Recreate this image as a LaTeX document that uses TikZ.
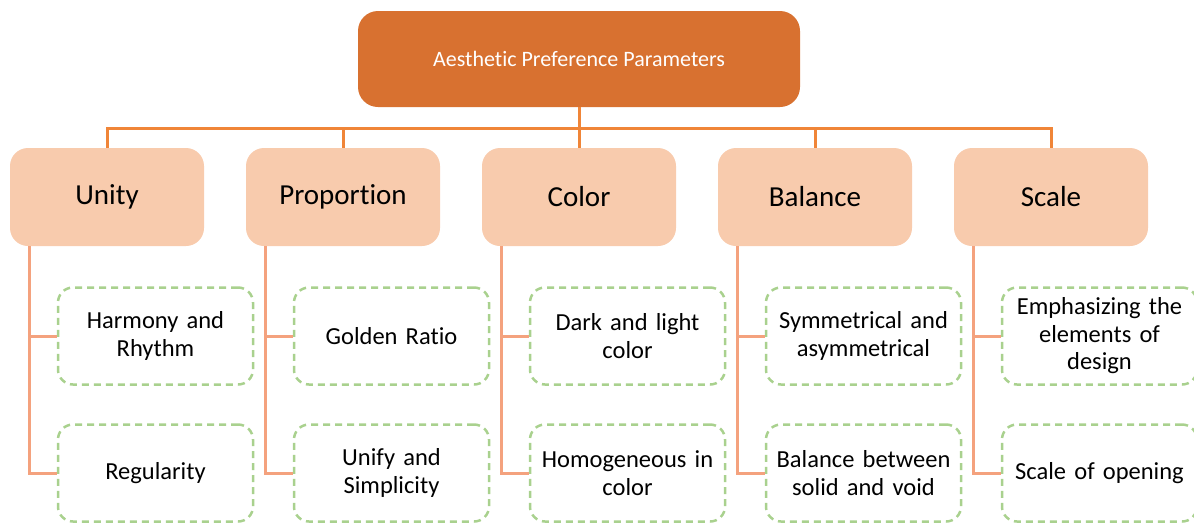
\documentclass[tikz,border=0pt]{standalone}
\usepackage{fontspec}
\setmainfont[Ligatures=NoCommon]{Carlito}
\definecolor{topfill}{HTML}{D87130}
\definecolor{catfill}{HTML}{F8CBAD}
\definecolor{barline}{HTML}{F08538}
\definecolor{subline}{HTML}{F4A27E}
\definecolor{dashgreen}{HTML}{A9D18E}
\tikzset{
  topbox/.style={rectangle, rounded corners=20pt, fill=topfill, text=white,
    minimum width=442pt, minimum height=96pt, inner sep=0pt,
    font=\fontsize{22}{26}\selectfont},
  catbox/.style={rectangle, rounded corners=18pt, fill=catfill, text=black,
    minimum width=194pt, minimum height=98pt, inner sep=0pt,
    font=\fontsize{29}{34}\selectfont},
  subbox/.style={rectangle, rounded corners=15pt, draw=dashgreen, line width=2.5pt,
    dash pattern=on 7pt off 5pt, minimum width=195pt, minimum height=97pt,
    inner sep=0pt, text width=190pt, align=center,
    font=\fontsize{24.5}{27.5}\selectfont},
  barconn/.style={draw=barline, line width=3pt},
  subconn/.style={draw=subline, line width=3pt},
}
\begin{document}
\begin{tikzpicture}[x=1pt,y=1pt]
\useasboundingbox (0,0) rectangle (1194,-523);
\node[topbox] (top) at (579,-59) {Aesthetic Preference Parameters};
\coordinate (bar) at (0,-128);
\node[catbox] (c1) at (107,-197) {Unity};
\node[catbox] (c2) at (343,-197) {Proportion};
\node[catbox] (c3) at (579,-197) {Color};
\node[catbox] (c4) at (815,-197) {Balance};
\node[catbox] (c5) at (1051,-197) {Scale};
\node[subbox] (s1a) at (155.5,-336) {Harmony and\\Rhythm};
\node[subbox] (s1b) at (155.5,-473) {Regularity};
\node[subbox] (s2a) at (391.5,-336) {Golden Ratio};
\node[subbox] (s2b) at (391.5,-473) {Unify and\\Simplicity};
\node[subbox] (s3a) at (627.5,-336) {Dark and light\\color};
\node[subbox] (s3b) at (627.5,-473) {Homogeneous in\\color};
\node[subbox] (s4a) at (863.5,-336) {Symmetrical and\\asymmetrical};
\node[subbox] (s4b) at (863.5,-473) {Balance between\\solid and void};
\node[subbox] (s5a) at (1099.5,-336) {Emphasizing the\\elements of\\design};
\node[subbox] (s5b) at (1099.5,-473) {Scale of opening};
\draw[barconn] (top.south) -- (top.south |- bar);
\foreach \i in {1,...,5}{
  \draw[barconn] (top.south |- bar) -| (c\i.north);
  \coordinate (d\i) at ([xshift=19.5pt]c\i.south west);
  \draw[subconn] (d\i) |- (s\i b.west);
  \draw[subconn] (d\i |- s\i a.west) -- (s\i a.west);
}
\end{tikzpicture}
\end{document}
